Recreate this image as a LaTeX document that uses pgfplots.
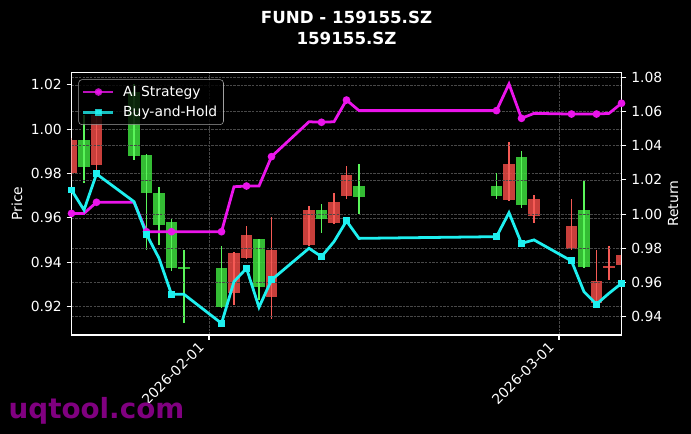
\documentclass[border=0pt]{standalone}
\usepackage{pgfplots}
\usepackage{pgfplotstable}
\pgfplotsset{compat=1.18}
\usepackage{fontspec}
\setmainfont{DejaVu Sans}

\definecolor{upgreen}{RGB}{60,215,60}
\definecolor{upwick}{RGB}{90,245,90}
\definecolor{downred}{RGB}{228,72,68}
\definecolor{downwick}{RGB}{245,90,85}
\definecolor{aimag}{RGB}{235,20,235}
\definecolor{bhcyan}{RGB}{30,240,240}
\definecolor{gridgray}{RGB}{72,72,72}
\definecolor{wmpurple}{RGB}{128,0,128}
\definecolor{legedge}{RGB}{200,200,200}

\newcommand{\tickfont}{\fontsize{10bp}{12bp}\selectfont}

% daily candles, x = days from 2026-02-01
\pgfplotstableread{
d  o      h      l      c
-10 0.9831 1.0065 0.9759 0.9952
-6  0.9880 1.0202 0.9862 1.0168
-5  0.9711 0.9890 0.9456 0.9884
-4  0.9568 0.9741 0.9478 0.9711
-3  0.9373 0.9594 0.9362 0.9583
-2  0.9373 0.9456 0.9126 0.9377
1   0.9200 0.9474 0.9193 0.9373
4   0.9290 0.9506 0.9230 0.9504
9   0.9594 0.9663 0.9531 0.9636
12  0.9693 0.9843 0.9618 0.9744
23  0.9699 0.9802 0.9684 0.9744
25  0.9659 0.9903 0.9644 0.9874
30  0.9378 0.9771 0.9373 0.9636
}\upcandles

\pgfplotstableread{
d  o      h      l      c
-11 0.9952 0.9960 0.9790 0.9802
-9  1.0065 1.0090 0.9809 0.9839
2   0.9443 0.9445 0.9207 0.9263
3   0.9523 0.9564 0.9418 0.9421
5   0.9456 0.9603 0.9143 0.9242
8   0.9636 0.9654 0.9476 0.9478
10  0.9672 0.9711 0.9577 0.9579
11  0.9794 0.9834 0.9684 0.9699
24  0.9843 0.9944 0.9679 0.9681
26  0.9684 0.9704 0.9579 0.9609
29  0.9564 0.9684 0.9457 0.9459
31  0.9317 0.9456 0.9213 0.9215
32  0.9383 0.9474 0.9320 0.9377
33  0.9433 0.9450 0.9370 0.9388
}\downcandles

% cumulative returns
\pgfplotstableread{
d   ai     bh
-11 1.0004 1.0141
-10 1.0004 1.0024
-9  1.0069 1.0235
-6  1.0069 1.0073
-5  0.9897 0.9882
-4  0.9897 0.9742
-3  0.9897 0.9531
-2  0.9897 0.9531
1   0.9897 0.9361
2   1.0160 0.9605
3   1.0164 0.9683
4   1.0164 0.9455
5   1.0336 0.9615
8   1.0540 0.9800
9   1.0537 0.9751
10  1.0540 0.9839
11  1.0667 0.9960
12  1.0605 0.9858
23  1.0605 0.9868
24  1.0761 1.0008
25  1.0560 0.9829
26  1.0589 0.9849
29  1.0585 0.9726
30  1.0585 0.9546
31  1.0585 0.9473
32  1.0589 0.9537
33  1.0648 0.9595
}\returns

\pgfplotsset{
  common/.style={
    at={(51.48bp,71.28bp)}, anchor=south west,
    width=396bp, height=189bp, scale only axis,
    xmin=-11, xmax=33,
    tick align=outside,
    major tick length=3.5bp,
    every tick/.style={white, line width=0.8bp},
    ticklabel style={font=\tickfont, text=white},
    /pgf/number format/assume math mode=true,
    yticklabel style={/pgf/number format/.cd, fixed, fixed zerofill, precision=2},
    grid style={gridgray, dash pattern=on 1.85bp off 0.8bp, line width=0.5bp},
  },
  body/.style={draw=none, mark=none, forget plot,
    error bars/.cd, y dir=both, y explicit, error mark=none,
    error bar style={draw=#1, line width=8.6bp, opacity=0.88}},
  wick/.style={draw=none, mark=none, forget plot,
    error bars/.cd, y dir=both, y explicit, error mark=none,
    error bar style={draw=#1, line width=1bp}},
}

\begin{document}
\begin{tikzpicture}
\fill[black] (0,0) rectangle (497.52bp,312.48bp);

\begin{axis}[common,
  ymin=0.9072, ymax=1.0256,
  axis line style={white, line width=0.9bp},
  tick pos=left,
  xtick={0,28}, xticklabels={2026-02-01,2026-03-01},
  xticklabel style={rotate=45, anchor=east, xshift=-3bp, yshift=1.2bp},
  ytick={0.92,0.94,0.96,0.98,1.00,1.02},
  xmajorgrids, ymajorgrids,
  ylabel={Price},
  every axis y label/.style={at={(axis description cs:-0.099,0.5)}, anchor=center, rotate=90, font=\tickfont, text=white},
]
\addplot[body=upgreen] table[x=d, y expr={(\thisrow{o}+\thisrow{c})/2},
  y error expr={max(abs(\thisrow{c}-\thisrow{o})/2,0.0003)}] {\upcandles};
\addplot[wick=upwick] table[x=d, y=c,
  y error plus expr={\thisrow{h}-\thisrow{c}},
  y error minus expr={\thisrow{c}-\thisrow{l}}] {\upcandles};
\addplot[body=downred] table[x=d, y expr={(\thisrow{o}+\thisrow{c})/2},
  y error expr={max(abs(\thisrow{c}-\thisrow{o})/2,0.0003)}] {\downcandles};
\addplot[wick=downwick] table[x=d, y=c,
  y error plus expr={\thisrow{h}-\thisrow{c}},
  y error minus expr={\thisrow{c}-\thisrow{l}}] {\downcandles};
\end{axis}

\begin{axis}[common,
  ymin=0.9293, ymax=1.0828,
  axis x line=none, axis y line*=right,
  axis line style={white, line width=0.9bp},
  tick align=outside,
  ytick={0.94,0.96,0.98,1.00,1.02,1.04,1.06,1.08},
  ymajorgrids,
  ylabel={Return},
  every axis y label/.style={at={(axis description cs:1.094,0.5)}, anchor=center, rotate=90, font=\tickfont, text=white},
  legend style={at={(0.0124,0.974)}, anchor=north west,
    fill=black, fill opacity=0.8, text opacity=1, draw=legedge, draw opacity=0.8,
    rounded corners=2.5bp, font=\tickfont, text=white,
    inner xsep=2.5bp, inner ysep=2.5bp, row sep=1.5bp,
    /tikz/every odd column/.append style={column sep=4bp}},
  legend cell align=left,
  legend image code/.code={
    \draw[#1, mark repeat=2, mark phase=2] plot coordinates {(0bp,0bp) (10.8bp,0bp) (21.6bp,0bp)};},
]
\addplot[aimag, line width=2bp, mark=*, mark size=1.7bp, mark repeat=2, mark phase=1]
  table[x=d, y=ai] {\returns};
\addlegendentry{AI Strategy}
\addplot[bhcyan, line width=2bp, mark=square*, mark size=1.5bp, mark repeat=2, mark phase=1]
  table[x=d, y=bh] {\returns};
\addlegendentry{Buy-and-Hold}
\end{axis}

\node[anchor=base, font=\bfseries\fontsize{12bp}{14bp}\selectfont, text=white, inner sep=0]
  at (249.5bp,295.7bp) {FUND - 159155.SZ};
\node[anchor=base, font=\bfseries\fontsize{12bp}{14bp}\selectfont, text=white, inner sep=0]
  at (249.5bp,280.1bp) {159155.SZ};
\node[anchor=base west, font=\bfseries\fontsize{20bp}{24bp}\selectfont, text=wmpurple, inner sep=0]
  at (6bp,10.8bp) {uqtool.com};

\pgfresetboundingbox
\path (0,0) rectangle (497.52bp,312.48bp);
\end{tikzpicture}
\end{document}
